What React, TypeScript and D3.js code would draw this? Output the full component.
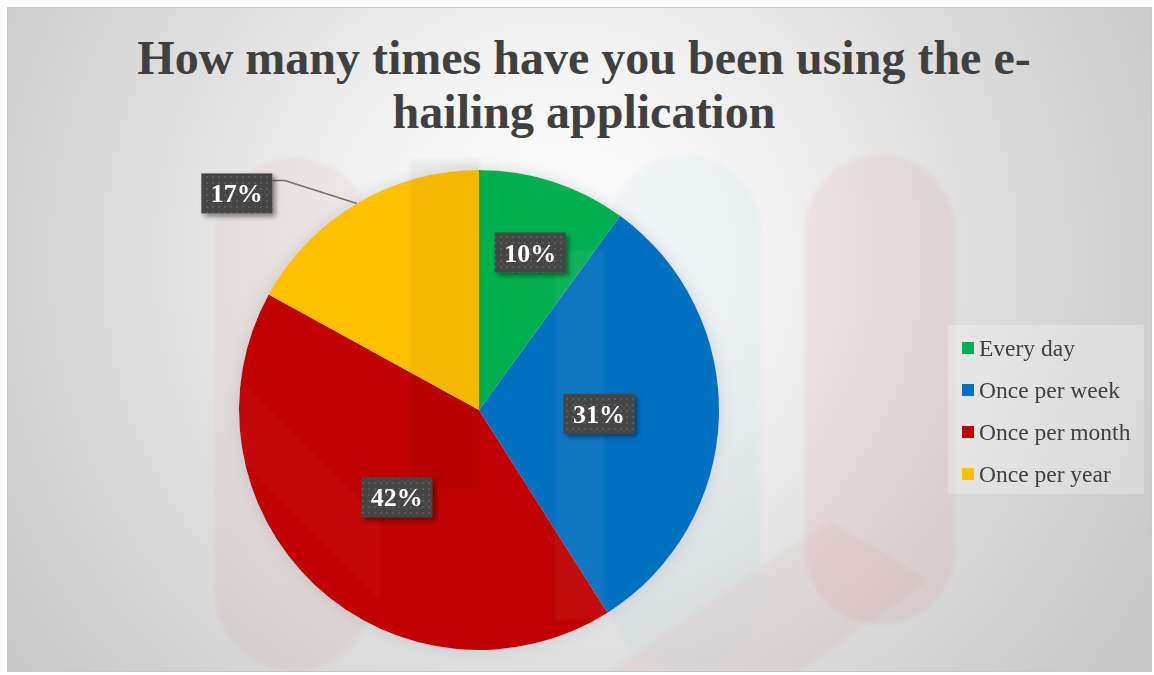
import React from "react";
import * as d3 from "d3";

const categories = ["Every day", "Once per week", "Once per month", "Once per year"];
const values = [10, 31, 42, 17];
const colors = ["#00B050", "#0070C0", "#C00000", "#FFC000"];
const titleLines = ["How many times have you been using the e-", "hailing application"];

const W = 1154;
const H = 675;
const cx = 479;
const cy = 410;
const R = 240;
// label radial factor per slice (null = outside with leader)
const labelFactor = [0.69, 0.5, 0.5, null];

export default function App() {
  const pie = d3.pie<number>().sort(null).value((d) => d)(values);
  const arc = d3.arc<d3.PieArcDatum<number>>().innerRadius(0).outerRadius(R);
  const total = d3.sum(values);
  const fmt = (v: number) => `${Math.round((v / total) * 100)}%`;

  const legendY = d3.scalePoint<string>().domain(categories).range([348, 474]);

  return (
    <svg width={W} height={H} style={{ position: "absolute", left: 0, top: 0 }} fontFamily="'Liberation Serif', 'Times New Roman', serif">
      <defs>
        <radialGradient id="bg" cx="560" cy="260" r="700" gradientUnits="userSpaceOnUse">
          <stop offset="0" stopColor="#ffffff" />
          <stop offset="0.25" stopColor="#f6f6f6" />
          <stop offset="0.6" stopColor="#dedede" />
          <stop offset="1" stopColor="#c6c6c6" />
        </radialGradient>
        <pattern id="dots" width="6" height="6" patternUnits="userSpaceOnUse">
          <rect width="6" height="6" fill="#454545" />
          <rect x="2" y="2" width="2" height="2" fill="#5a5a5a" />
        </pattern>
        <filter id="shadow" x="-30%" y="-30%" width="170%" height="170%">
          <feDropShadow dx="3" dy="3" stdDeviation="2.5" floodColor="#000" floodOpacity="0.45" />
        </filter>
        <filter id="glow" x="-20%" y="-20%" width="140%" height="140%">
          <feGaussianBlur in="SourceAlpha" stdDeviation="8" />
          <feOffset dx="0" dy="0" result="b" />
          <feFlood floodColor="#8a9aa8" floodOpacity="0.35" />
          <feComposite in2="b" operator="in" result="s" />
          <feMerge>
            <feMergeNode in="s" />
            <feMergeNode in="SourceGraphic" />
          </feMerge>
        </filter>
        <filter id="soft">
          <feGaussianBlur stdDeviation="2" />
        </filter>
      </defs>

      <rect x={0} y={0} width={W} height={H} fill="#ffffff" />
      <rect x={7.5} y={7.5} width={1144} height={664} fill="url(#bg)" stroke="#c8c8c8" strokeWidth={1} />

      {/* faint watermark behind */}
      <g filter="url(#soft)">
        <rect x={215} y={158} width={158} height={513} rx={79} fill="#d23030" opacity={0.045} />
        <rect x={610} y={155} width={150} height={516} rx={75} fill="#3a7ab8" opacity={0.04} />
        <rect x={805} y={155} width={150} height={470} rx={75} fill="#d23030" opacity={0.05} />
        <path d="M610,671 L830,520 L930,580 L800,671 Z" fill="#d23030" opacity={0.04} />
      </g>

      {/* pie */}
      <g transform={`translate(${cx},${cy})`} filter="url(#glow)">
        {pie.map((p, i) => (
          <path key={categories[i]} d={arc(p) || ""} fill={colors[i]} />
        ))}
      </g>

      {/* faint watermark over pie */}
      <g filter="url(#soft)">
        <rect x={410} y={160} width={70} height={330} fill="#000" opacity={0.04} />
        <rect x={555} y={250} width={50} height={370} fill="#fff" opacity={0.05} />
        <path d="M240,380 L380,520 L380,600 L240,460 Z" fill="#fff" opacity={0.04} />
      </g>

      {/* title */}
      <text textAnchor="middle" fill="#404040" fontWeight="bold" fontSize={48}>
        {titleLines.map((t, i) => (
          <tspan key={i} x={584} y={74 + i * 54}>
            {t}
          </tspan>
        ))}
      </text>

      {/* labels */}
      {pie.map((p, i) => {
        const mid = (p.startAngle + p.endAngle) / 2;
        const f = labelFactor[i];
        let bx: number;
        let by: number;
        let leader: string | null = null;
        if (f !== null) {
          bx = cx + Math.sin(mid) * R * f;
          by = cy - Math.cos(mid) * R * f;
        } else {
          const ex = cx + Math.sin(mid) * R;
          const ey = cy - Math.cos(mid) * R;
          bx = ex - 120;
          by = ey - 10;
          leader = `M${ex},${ey} L${bx + 48},${by - 13} L${bx + 36},${by - 13}`;
        }
        const bw = 71;
        const bh = 40;
        return (
          <g key={`lab-${i}`}>
            {leader && <path d={leader} fill="none" stroke="#707070" strokeWidth={1.5} />}
            <rect x={bx - bw / 2} y={by - bh / 2} width={bw} height={bh} fill="url(#dots)" filter="url(#shadow)" />
            <text x={bx} y={by + 9} textAnchor="middle" fill="#ffffff" fontWeight="bold" fontSize={26}>
              {fmt(values[i])}
            </text>
          </g>
        );
      })}

      {/* legend */}
      <rect x={948} y={325} width={196} height={169} fill="#ffffff" opacity={0.25} />
      {categories.map((c, i) => (
        <g key={c} transform={`translate(962,${legendY(c)})`}>
          <rect x={0} y={-6} width={12} height={12} fill={colors[i]} />
          <text x={17} y={8} fill="#404040" fontSize={23.5}>
            {c}
          </text>
        </g>
      ))}
    </svg>
  );
}
